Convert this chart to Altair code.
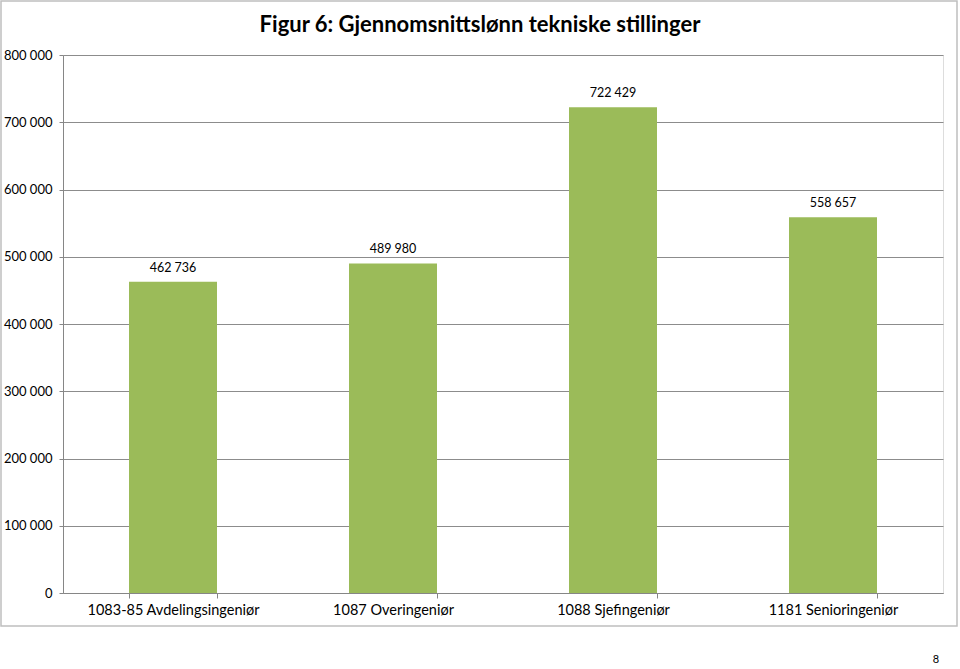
import altair as alt
import pandas as pd

categories = ["1083-85 Avdelingsingeniør", "1087 Overingeniør", "1088 Sjefingeniør", "1181 Senioringeniør"]
values = [462736, 489980, 722429, 558657]
title_text = "Figur 6: Gjennomsnittslønn tekniske stillinger"
page_number = "8"

df = pd.DataFrame({"kategori": categories, "lonn": values})

FONT = "Lato"
W, H = 880, 538
PAD_L, PAD_T = 63, 55

x_enc = alt.X("kategori:N", sort=categories, title=None,
              scale=alt.Scale(paddingInner=0.6, paddingOuter=0.3),
              axis=alt.Axis(labelAngle=0, labelFont=FONT, labelFontSize=14.5, labelColor="#000000",
                            labelPadding=5, tickBand="extent", tickSize=5, tickColor="#868686",
                            domainColor="#868686", grid=False, labelLimit=300))
y_enc = alt.Y("lonn:Q", title=None,
              scale=alt.Scale(domain=[0, 800000], nice=False),
              axis=alt.Axis(values=[0, 100000, 200000, 300000, 400000, 500000, 600000, 700000, 800000],
                            labelExpr="replace(format(datum.value, ','), /,/g, ' ')",
                            labelFont=FONT, labelFontSize=13, labelColor="#000000",
                            tickSize=4, tickColor="#868686", labelPadding=7,
                            domainColor="#868686", gridColor="#8c8c8c", gridWidth=1))

base = alt.Chart(df)

bars = base.mark_bar(color="#9BBB59", size=88).encode(x=x_enc, y=y_enc)

labels = base.transform_calculate(
    lbl="replace(format(datum.lonn, ','), /,/g, ' ')"
).mark_text(baseline="bottom", dy=-7, font=FONT, fontSize=12.5, color="#000000").encode(
    x=alt.X("kategori:N", sort=categories),
    y=alt.Y("lonn:Q"),
    text="lbl:N",
)

title_df = pd.DataFrame({"t": [title_text]})
title = alt.Chart(title_df).mark_text(font=FONT, fontSize=22, fontWeight="bold", color="#000000",
                                      align="center", baseline="middle").encode(
    x=alt.value(480 - PAD_L), y=alt.value(25 - PAD_T), text="t:N")

page_df = pd.DataFrame({"t": [page_number]})
page = alt.Chart(page_df).mark_text(font=FONT, fontSize=11, color="#000000",
                                    align="center", baseline="middle").encode(
    x=alt.value(936 - PAD_L), y=alt.value(660 - PAD_T), text="t:N")

border = alt.Chart(page_df).mark_rect(fill=None, stroke="#BFBFBF", strokeWidth=1.5).encode(
    x=alt.value(1 - PAD_L), x2=alt.value(957 - PAD_L),
    y=alt.value(1 - PAD_T), y2=alt.value(626 - PAD_T))

chart = alt.layer(bars, labels, title, page, border).properties(
    width=W, height=H,
    autosize=alt.AutoSizeParams(type="none"),
    padding={"left": PAD_L, "top": PAD_T, "right": 960 - PAD_L - W, "bottom": 669 - PAD_T - H},
).configure_view(stroke=None).configure(background="white")

chart.save("out.html", embed_options={"renderer": "svg", "actions": False})
